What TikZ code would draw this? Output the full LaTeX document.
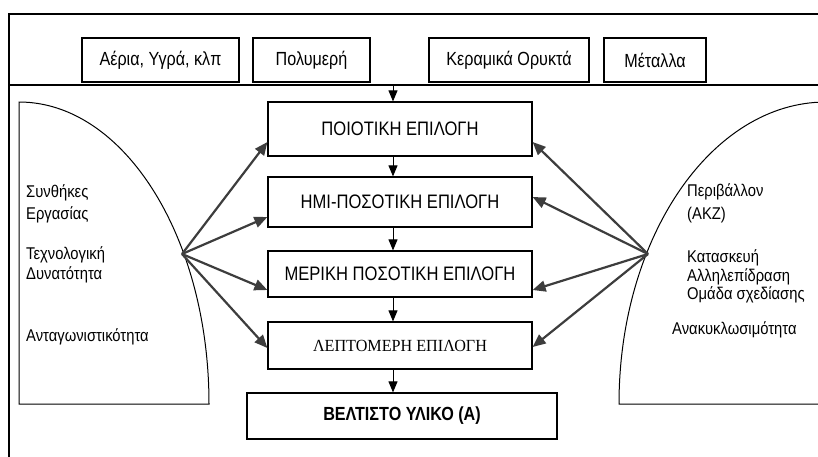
\documentclass[tikz,border=0pt]{standalone}
\usepackage{fontspec}
\setmainfont{Liberation Sans}
\newfontfamily\narrowsans[FakeStretch=0.85]{Liberation Sans}
\newfontfamily\sidesans[FakeStretch=0.87]{Liberation Sans}
\newfontfamily\narrowserif[FakeStretch=0.95]{Liberation Serif}
\usetikzlibrary{arrows.meta}

\begin{document}
\begin{tikzpicture}[x=1pt,y=-1pt,
  frameline/.style={line width=1.3pt},
  domeline/.style={line width=1pt},
  catbox/.style={draw, line width=1.2pt, inner sep=0pt, minimum height=44pt,
    font=\narrowsans\fontsize{19}{22}\selectfont},
  stagebox/.style={draw, line width=1.2pt, inner sep=0pt, minimum width=264pt,
    font=\narrowsans\fontsize{19.5}{22}\selectfont},
  flow/.style={line width=0.9pt, -{Triangle[length=11pt,width=9pt]}},
  factor/.style={color=black!76, line width=2.2pt, -{Triangle[length=13pt,width=11pt]}},
  sidetext/.style={anchor=base west, inner sep=0pt, font=\sidesans\fontsize{17}{19}\selectfont}
]
\useasboundingbox (0,0) rectangle (818,456);
\clip (0,0) rectangle (818,456);

% outer frame and the band holding the material families
\draw[frameline] (9,470) -- (9,14) -- (840,14);
\draw[frameline] (9,85) -- (840,85);

% half-domes with the selection criteria
\draw[domeline] (19,404) -- (19,102)
  arc[start angle=90, end angle=0, x radius=190pt, y radius=302pt] -- cycle;
\draw[domeline] (840,102) -- (826,102)
  arc[start angle=90, end angle=180, x radius=207pt, y radius=302pt] -- (840,404);

% material families
\node[catbox, minimum width=157pt] (gas)  at (160.5,60) {Αέρια, Υγρά, κλπ};
\node[catbox, minimum width=117pt] (poly) at (311.5,60) {Πολυμερή};
\node[catbox, minimum width=160pt] (cer)  at (509,60)   {Κεραμικά Ορυκτά};
\node[catbox, minimum width=102pt] (met)  at (655,60)   {Μέταλλα};

% selection stages
\node[stagebox, minimum height=54pt] (s1) at (400,129)   {ΠΟΙΟΤΙΚΗ ΕΠΙΛΟΓΗ};
\node[stagebox, minimum height=50pt] (s2) at (400,202)   {ΗΜΙ-ΠΟΣΟΤΙΚΗ ΕΠΙΛΟΓΗ};
\node[stagebox, minimum height=46pt] (s3) at (400,274)   {ΜΕΡΙΚΗ ΠΟΣΟΤΙΚΗ ΕΠΙΛΟΓΗ};
\node[stagebox, minimum height=47pt, font=\narrowserif\fontsize{17}{20}\selectfont]
  (s4) at (400,345.5) {ΛΕΠΤΟΜΕΡΗ ΕΠΙΛΟΓΗ};
\node[stagebox, minimum height=46pt, minimum width=310pt,
  font=\narrowsans\bfseries\fontsize{19}{22}\selectfont]
  (best) at (402,416) {ΒΕΛΤΙΣΤΟ ΥΛΙΚΟ (Α)};

% left criteria
\node[sidetext] (l1) at (26,197) {Συνθήκες};
\node[sidetext] (l2) at (26,219) {Εργασίας};
\node[sidetext] (l3) at (26,259) {Τεχνολογική};
\node[sidetext] (l4) at (26,279) {Δυνατότητα};
\node[sidetext] (l5) at (26,341) {Ανταγωνιστικότητα};

% right criteria
\node[sidetext] (r1) at (687,196) {Περιβάλλον};
\node[sidetext] (r2) at (687,219) {(ΑΚΖ)};
\node[sidetext] (r3) at (687,262) {Κατασκευή};
\node[sidetext] (r4) at (687,281) {Αλληλεπίδραση};
\node[sidetext] (r5) at (687,299) {Ομάδα σχεδίασης};
\node[sidetext] (r6) at (672,334) {Ανακυκλωσιμότητα};

% main flow down the stages
\coordinate (feed) at (393,85);
\draw[flow] (feed) -- ([xshift=-7pt]s1.north);
\draw[flow] ([xshift=-7pt]s1.south) -- ([xshift=-7pt]s2.north);
\draw[flow] ([xshift=-7pt]s2.south) -- ([xshift=-7pt]s3.north);
\draw[flow] ([xshift=-7pt]s3.south) -- ([xshift=-7pt]s4.north);
\draw[flow] ([xshift=-7pt]s4.south) -- ([xshift=-9pt]best.north);

% criteria feeding every stage
\coordinate (lsrc) at (182,254);
\coordinate (rsrc) at (648,254);
\draw[factor] (lsrc) -- ([yshift=-13pt]s1.west);
\draw[factor] (lsrc) -- ([yshift=-15pt]s2.west);
\draw[factor] (lsrc) -- ([yshift=-16pt]s3.west);
\draw[factor] (lsrc) -- ([yshift=-2.5pt]s4.west);
\draw[factor] (rsrc) -- ([yshift=-13pt]s1.east);
\draw[factor] (rsrc) -- ([yshift=5pt]s2.east);
\draw[factor] (rsrc) -- ([yshift=-16pt]s3.east);
\draw[factor] (rsrc) -- ([yshift=-1.5pt]s4.east);
\end{tikzpicture}
\end{document}
